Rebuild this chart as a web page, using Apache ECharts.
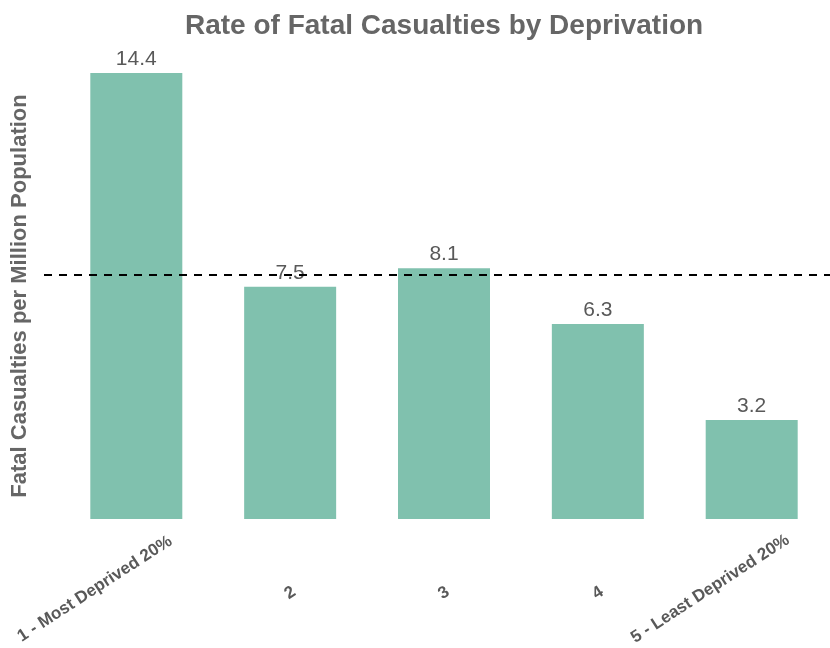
<!DOCTYPE html>
<html>
<head>
<meta charset="utf-8">
<script src="https://cdn.jsdelivr.net/npm/echarts@6/dist/echarts.min.js"></script>
<style>html,body{margin:0;padding:0;background:#fff}#c{width:830px;height:648px}</style>
</head>
<body>
<div id="c"></div>
<script>
var categories = ['1 - Most Deprived 20%', '2', '3', '4', '5 - Least Deprived 20%'];
var positions = [1, 2, 3, 4, 5];
var rates = [14.4, 7.5, 8.1, 6.3, 3.2];
var meanRate = 7.9;

var chart = echarts.init(document.getElementById('c'));
var barData = positions.map(function (p, i) { return [p, rates[i]]; });
chart.setOption({
  animation: false,
  backgroundColor: '#ffffff',
  title: {
    text: 'Rate of Fatal Casualties by Deprivation',
    left: 180, top: 7,
    textStyle: { fontFamily: 'Liberation Sans', fontWeight: 'bold', fontSize: 28, color: '#666666' }
  },
  grid: { left: 44, width: 800, top: 73, bottom: 129, containLabel: false, outerBoundsMode: 'none' },
  xAxis: {
    type: 'value', min: 0.4, max: 5.6,
    axisLine: { show: false }, axisTick: { show: false }, splitLine: { show: false },
    axisLabel: {
      customValues: positions,
      rotate: 33, align: 'center', verticalAlign: 'middle', margin: 74,
      fontFamily: 'Liberation Sans', fontWeight: 'bold', fontSize: 17, color: '#595959',
      formatter: function (v) {
        var t = categories[Math.round(v) - 1];
        return t.length > 2 ? '{long|' + t + '}' : t;
      },
      rich: {
        long: { fontFamily: 'Liberation Sans', fontWeight: 'bold', fontSize: 17, color: '#595959', padding: [0, 65, 52, 0] }
      }
    }
  },
  yAxis: {
    type: 'value', min: 0, max: 14.4,
    name: 'Fatal Casualties per Million Population',
    nameLocation: 'middle', nameRotate: 90, nameGap: 13,
    nameTextStyle: { fontFamily: 'Liberation Sans', fontWeight: 'bold', fontSize: 22, color: '#666666' },
    axisLine: { show: false }, axisTick: { show: false }, axisLabel: { show: false }, splitLine: { show: false }
  },
  series: [{
    type: 'bar',
    data: barData,
    barWidth: 92,
    itemStyle: { color: '#80c1ae' },
    label: {
      show: true, position: 'top', distance: 3,
      fontFamily: 'Liberation Sans', fontSize: 21, color: '#595959',
      formatter: function (p) { return p.value[1].toFixed(1); }
    },
    markLine: {
      silent: true, symbol: 'none',
      label: { show: false },
      lineStyle: { color: '#000000', type: [8, 7], width: 2 },
      data: [{ yAxis: meanRate }]
    }
  }]
});
</script>
</body>
</html>
